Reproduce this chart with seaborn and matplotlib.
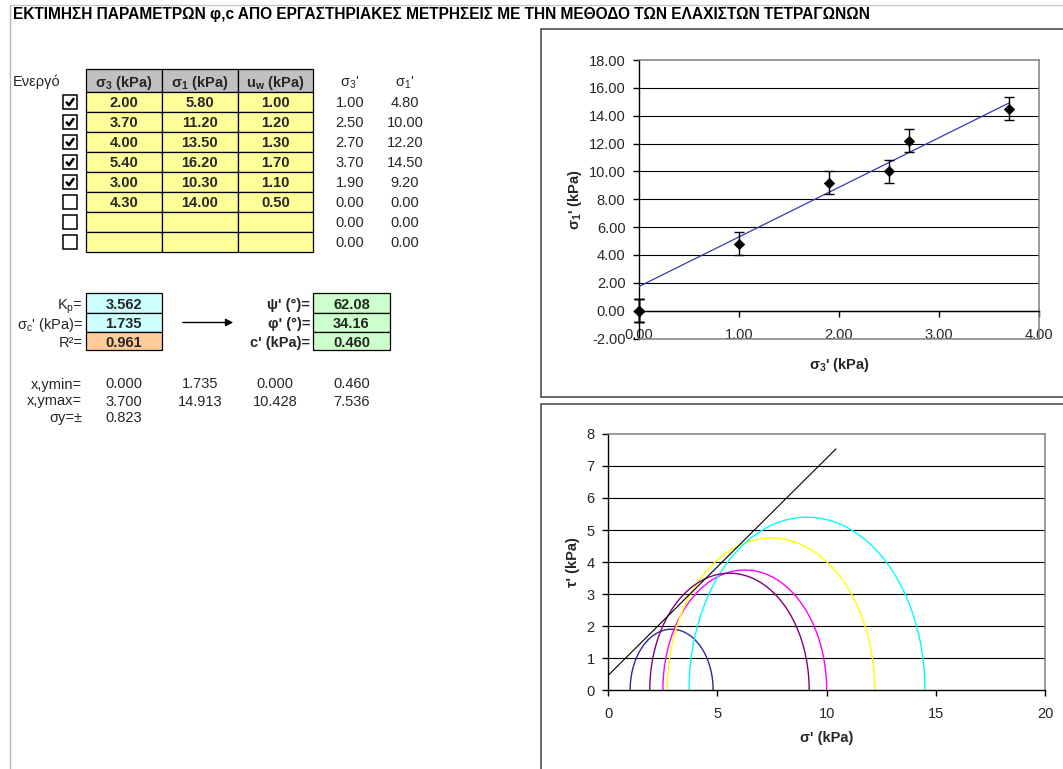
import numpy as np
import pandas as pd
import matplotlib
matplotlib.use('Agg')
import matplotlib.pyplot as plt
import seaborn as sns
from matplotlib.patches import Rectangle
from matplotlib import font_manager as fm

# ---------------- data ----------------
TITLE = "ΕΚΤΙΜΗΣΗ ΠΑΡΑΜΕΤΡΩΝ φ,c ΑΠΟ ΕΡΓΑΣΤΗΡΙΑΚΕΣ ΜΕΤΡΗΣΕΙΣ ΜΕ ΤΗΝ ΜΕΘΟΔΟ ΤΩΝ ΕΛΑΧΙΣΤΩΝ ΤΕΤΡΑΓΩΝΩΝ"
active = [True, True, True, True, True, False, False, False]
sigma3 = [2.00, 3.70, 4.00, 5.40, 3.00, 4.30, None, None]
sigma1 = [5.80, 11.20, 13.50, 16.20, 10.30, 14.00, None, None]
uw = [1.00, 1.20, 1.30, 1.70, 1.10, 0.50, None, None]
sigma3_eff = [1.00, 2.50, 2.70, 3.70, 1.90, 0.00, 0.00, 0.00]
sigma1_eff = [4.80, 10.00, 12.20, 14.50, 9.20, 0.00, 0.00, 0.00]
Kp, sigma_c, R2 = 3.562, 1.735, 0.961
psi, phi, c_eff = 62.08, 34.16, 0.460
xy_min = [0.000, 1.735, 0.000, 0.460]
xy_max = [3.700, 14.913, 10.428, 7.536]
sigma_y = 0.823
top_xticks = [0, 1, 2, 3, 4]
top_yticks = [-2, 0, 2, 4, 6, 8, 10, 12, 14, 16, 18]
bot_xticks = [0, 5, 10, 15, 20]
bot_yticks = [0, 1, 2, 3, 4, 5, 6, 7, 8]
circle_colors = ['#2A2A96', '#FF00FF', '#FFFF00', '#00FFFF', '#800080']

# ---------------- style ----------------
sns.set_theme(style='white')
names = {f.name for f in fm.fontManager.ttflist}
BASE = 'Liberation Sans' if 'Liberation Sans' in names else 'DejaVu Sans'
NARROW = 'Liberation Sans Narrow' if 'Liberation Sans Narrow' in names else BASE
plt.rcParams['font.family'] = [BASE, 'DejaVu Sans']
plt.rcParams['mathtext.default'] = 'regular'
plt.rcParams['axes.unicode_minus'] = False

W, H = 1063, 769
fig = plt.figure(figsize=(W / 100, H / 100), dpi=100)
fig.patch.set_facecolor('white')

bg = fig.add_axes([0, 0, 1, 1])
bg.set_xlim(0, W)
bg.set_ylim(H, 0)
bg.axis('off')

FS = 10.5
VA = 'center_baseline'

def rect_px(l, t, r, b):
    return [l / W, (H - b) / H, (r - l) / W, (b - t) / H]

# page lines
bg.plot([9.5, 9.5], [4.5, H], color='#B8B8B8', lw=1)
bg.plot([9.5, W], [4.5, 4.5], color='#C8C8C8', lw=1)

# title
t = bg.text(13, 18.5, TITLE, family=[NARROW, 'DejaVu Sans'], fontweight='bold',
            fontsize=10, va='baseline', ha='left', color='black')
fig.canvas.draw()
w = t.get_window_extent().width
t.set_fontsize(10 * 860 / w)

# ---------------- input table ----------------
col_edges = [85.7, 161.7, 237.7, 313.3]
head_top, head_bot = 69, 91.7
row_h = 20
headers = ["σ$_3$ (kPa)", "σ$_1$ (kPa)", "u$_w$ (kPa)"]
bg.text(13, 80, "Ενεργό", fontsize=FS, va=VA, ha='left')
for j in range(3):
    bg.add_patch(Rectangle((col_edges[j], head_top), col_edges[j + 1] - col_edges[j],
                           head_bot - head_top, fc='#C0C0C0', ec='black', lw=0.9))
    bg.text((col_edges[j] + col_edges[j + 1]) / 2, 80.5, headers[j], fontsize=FS,
            fontweight='bold', ha='center', va=VA)
bg.text(350, 80.5, "σ$_3$'", fontsize=FS, ha='center', va=VA)
bg.text(405, 80.5, "σ$_1$'", fontsize=FS, ha='center', va=VA)

cols = [sigma3, sigma1, uw]
for i in range(8):
    y0 = head_bot + i * row_h
    yc = y0 + row_h / 2
    for j in range(3):
        bg.add_patch(Rectangle((col_edges[j], y0), col_edges[j + 1] - col_edges[j], row_h,
                               fc='#FFFF99', ec='black', lw=0.9))
        v = cols[j][i]
        if v is not None:
            bg.text((col_edges[j] + col_edges[j + 1]) / 2, yc, f"{v:.2f}", fontsize=FS,
                    fontweight='bold', ha='center', va=VA)
    # checkbox
    bg.add_patch(Rectangle((63, yc - 7), 14, 14, fc='white', ec='black', lw=1.1))
    if active[i]:
        bg.plot([66, 69, 74], [yc, yc + 3.5, yc - 3.5], color='black', lw=1.8,
                solid_capstyle='butt')
    bg.text(350, yc, f"{sigma3_eff[i]:.2f}", fontsize=FS, ha='center', va=VA)
    bg.text(405, yc, f"{sigma1_eff[i]:.2f}", fontsize=FS, ha='center', va=VA)

# ---------------- results block ----------------
res_edges = [292.5, 313, 331.5, 350]
left_labels = ["K$_p$=", "σ$_c$' (kPa)=", "R²="]
left_vals = [f"{Kp:.3f}", f"{sigma_c:.3f}", f"{R2:.3f}"]
left_cols = ['#CCFFFF', '#CCFFFF', '#FFCC99']
right_labels = ["ψ' (°)=", "φ' (°)=", "c' (kPa)="]
right_vals = [f"{psi:.2f}", f"{phi:.2f}", f"{c_eff:.3f}"]
for k in range(3):
    y0, y1 = res_edges[k], res_edges[k + 1]
    yc = (y0 + y1) / 2 + 0.5
    bg.add_patch(Rectangle((85.7, y0), 76, y1 - y0, fc=left_cols[k], ec='black', lw=0.9))
    bg.text(83, yc, left_labels[k], fontsize=FS, ha='right', va=VA)
    bg.text(123.7, yc, left_vals[k], fontsize=FS, fontweight='bold', ha='center', va=VA)
    bg.add_patch(Rectangle((313.3, y0), 76.7, y1 - y0, fc='#CCFFCC', ec='black', lw=0.9))
    bg.text(310, yc, right_labels[k], fontsize=FS, fontweight='bold', ha='right', va=VA)
    bg.text(351.5, yc, right_vals[k], fontsize=FS, fontweight='bold', ha='center', va=VA)

bg.annotate('', xy=(236, 322.5), xytext=(180, 322.5),
            arrowprops=dict(arrowstyle='-|>', color='black', lw=1, mutation_scale=11))

# stats rows
stat_x = [123.5, 200, 275, 351.5]
stat_y = [383, 400, 416.5]
bg.text(82, stat_y[0], "x,ymin=", fontsize=FS, ha='right', va=VA)
bg.text(82, stat_y[1], "x,ymax=", fontsize=FS, ha='right', va=VA)
bg.text(82, stat_y[2], "σy=±", fontsize=FS, ha='right', va=VA)
for x, v in zip(stat_x, xy_min):
    bg.text(x, stat_y[0], f"{v:.3f}", fontsize=FS, ha='center', va=VA)
for x, v in zip(stat_x, xy_max):
    bg.text(x, stat_y[1], f"{v:.3f}", fontsize=FS, ha='center', va=VA)
bg.text(stat_x[0], stat_y[2], f"{sigma_y:.3f}", fontsize=FS, ha='center', va=VA)

# chart frames
bg.add_patch(Rectangle((541, 29), 600, 368, fc='white', ec='#505050', lw=1.2))
bg.add_patch(Rectangle((541, 404), 600, 400, fc='white', ec='#505050', lw=1.2))

GRAY = '#808080'

# ---------------- top chart ----------------
ax1 = fig.add_axes(rect_px(639, 60, 1039, 338.5))
ax1.set_facecolor('white')
ax1.set_xlim(0, 4)
ax1.set_ylim(-2, 18)
for v in top_yticks:
    if -2 < v < 18:
        ax1.axhline(v, color='black', lw=0.8, zorder=1)
ax1.axhline(-2, color=GRAY, lw=1.1, zorder=3, clip_on=False)
pts = pd.DataFrame({'s3': sigma3_eff, 's1': sigma1_eff})
eb = ax1.errorbar(pts['s3'], pts['s1'], yerr=sigma_y, fmt='none', ecolor='black',
                  elinewidth=1, capsize=3.3, capthick=1, zorder=4)
for a in list(eb.lines[1]) + list(eb.lines[2]):
    a.set_clip_on(False)
sns.lineplot(x=[xy_min[0], xy_max[0]], y=[xy_min[1], xy_max[1]], color='#3838B8',
             lw=0.9, estimator=None, sort=False, ax=ax1, zorder=3)
sns.scatterplot(data=pts, x='s3', y='s1', marker='D', s=28, color='black',
                edgecolor='black', linewidth=0.5, ax=ax1, zorder=5, clip_on=False)
ax1.set_xticks(top_xticks)
ax1.set_xticklabels([f"{v:.2f}" for v in top_xticks])
ax1.set_yticks(top_yticks)
ax1.set_yticklabels([f"{v:.2f}" for v in top_yticks])
for s in ['top', 'right']:
    ax1.spines[s].set_color(GRAY)
    ax1.spines[s].set_linewidth(1.1)
ax1.spines['left'].set_color('black')
ax1.spines['left'].set_linewidth(1)
ax1.spines['bottom'].set_color('black')
ax1.spines['bottom'].set_linewidth(1)
ax1.spines['bottom'].set_position(('data', 0))
ax1.tick_params(axis='x', direction='out', length=4, width=1, color='black',
                labelsize=FS, pad=8.5, bottom=True)
ax1.tick_params(axis='y', direction='out', length=4, width=1, color='black',
                labelsize=FS, pad=5.8, left=True)
ax1.set_xlabel("σ$_3$' (kPa)", fontsize=FS, fontweight='bold')
ax1.set_ylabel("σ$_1$' (kPa)", fontsize=FS, fontweight='bold')
ax1.xaxis.set_label_coords(0.5, (338.5 - 365) / 278.5)
ax1.xaxis.label.set_va('center')
ax1.yaxis.set_label_coords((575 - 639) / 400, 0.5)
ax1.yaxis.label.set_va('center')

# ---------------- bottom chart (Mohr circles) ----------------
ax2 = fig.add_axes(rect_px(608.3, 434, 1045, 690))
ax2.set_facecolor('white')
ax2.set_xlim(0, 20)
ax2.set_ylim(0, 8)
for v in bot_yticks:
    if 0 < v < 8:
        ax2.axhline(v, color='black', lw=0.8, zorder=1)
theta = np.linspace(0, np.pi, 181)
rows = []
for k, (s3, s1, a) in enumerate(zip(sigma3_eff, sigma1_eff, active)):
    if not a:
        continue
    c = (s1 + s3) / 2
    r = (s1 - s3) / 2
    for tt in theta:
        rows.append((k, c - r * np.cos(tt), r * np.sin(tt)))
circ = pd.DataFrame(rows, columns=['sample', 'sigma', 'tau'])
sns.lineplot(data=circ, x='sigma', y='tau', hue='sample', palette=circle_colors,
             sort=False, estimator=None, lw=1.0, legend=False, ax=ax2, zorder=2)
sns.lineplot(x=[xy_min[2], xy_max[2]], y=[xy_min[3], xy_max[3]], color='black',
             lw=0.8, estimator=None, sort=False, ax=ax2, zorder=3)
ax2.set_xticks(bot_xticks)
ax2.set_yticks(bot_yticks)
ax2.set_xticklabels([str(v) for v in bot_xticks])
ax2.set_yticklabels([str(v) for v in bot_yticks])
for s in ['top', 'right']:
    ax2.spines[s].set_color(GRAY)
    ax2.spines[s].set_linewidth(1.1)
for s in ['left', 'bottom']:
    ax2.spines[s].set_color('black')
    ax2.spines[s].set_linewidth(1)
ax2.tick_params(axis='x', direction='out', length=4, width=1, color='black',
                labelsize=FS, pad=8.5, bottom=True)
ax2.tick_params(axis='y', direction='out', length=4, width=1, color='black',
                labelsize=FS, pad=5.8, left=True)
ax2.set_xlabel("σ' (kPa)", fontsize=FS, fontweight='bold')
ax2.set_ylabel("τ' (kPa)", fontsize=FS, fontweight='bold')
ax2.xaxis.set_label_coords(0.5, (690 - 738) / 256)
ax2.xaxis.label.set_va('center')
ax2.yaxis.set_label_coords((573 - 608.3) / 436.7, 0.5)
ax2.yaxis.label.set_va('center')

fig.savefig('out.png', dpi=100, facecolor='white')
